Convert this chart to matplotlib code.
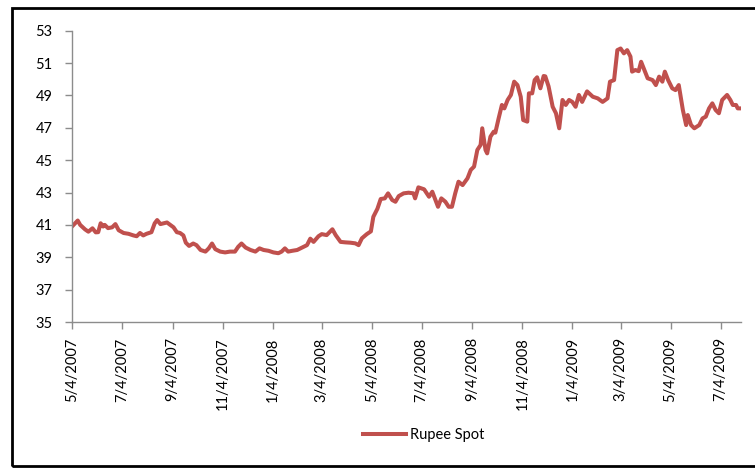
import matplotlib
matplotlib.use("Agg")
import matplotlib.pyplot as plt
import matplotlib.ticker as mticker
import pandas as pd
from matplotlib.patches import Rectangle

# Rupee spot rate
dates = [
    "2007-05-04", "2007-05-11", "2007-05-14", "2007-05-20", "2007-05-24", "2007-05-29",
    "2007-06-02", "2007-06-05", "2007-06-08", "2007-06-11", "2007-06-13", "2007-06-17",
    "2007-06-22", "2007-06-26", "2007-06-30", "2007-07-06", "2007-07-12", "2007-07-18",
    "2007-07-22", "2007-07-26", "2007-07-30", "2007-08-03", "2007-08-09", "2007-08-13",
    "2007-08-16", "2007-08-20", "2007-08-24", "2007-08-28", "2007-09-01", "2007-09-05",
    "2007-09-09", "2007-09-13", "2007-09-17", "2007-09-20", "2007-09-24", "2007-09-29",
    "2007-10-03", "2007-10-08", "2007-10-14", "2007-10-18", "2007-10-22", "2007-10-26",
    "2007-11-01", "2007-11-07", "2007-11-13", "2007-11-19", "2007-11-23", "2007-11-27",
    "2007-12-02", "2007-12-08", "2007-12-14", "2007-12-19", "2007-12-24", "2007-12-30",
    "2008-01-05", "2008-01-11", "2008-01-15", "2008-01-19", "2008-01-23", "2008-01-28",
    "2008-02-03", "2008-02-07", "2008-02-11", "2008-02-15", "2008-02-19", "2008-02-23",
    "2008-02-29", "2008-03-04", "2008-03-10", "2008-03-17", "2008-03-21", "2008-03-27",
    "2008-04-02", "2008-04-08", "2008-04-14", "2008-04-18", "2008-04-22", "2008-04-28",
    "2008-05-03", "2008-05-06", "2008-05-11", "2008-05-15", "2008-05-20", "2008-05-24",
    "2008-05-29", "2008-06-02", "2008-06-06", "2008-06-12", "2008-06-18", "2008-06-24",
    "2008-06-26", "2008-06-30", "2008-07-07", "2008-07-13", "2008-07-17", "2008-07-24",
    "2008-07-28", "2008-08-02", "2008-08-06", "2008-08-10", "2008-08-14", "2008-08-18",
    "2008-08-23", "2008-08-29", "2008-09-02", "2008-09-06", "2008-09-10", "2008-09-14",
    "2008-09-16", "2008-09-20", "2008-09-22", "2008-09-26", "2008-09-30", "2008-10-02",
    "2008-10-06", "2008-10-10", "2008-10-13", "2008-10-17", "2008-10-21", "2008-10-25",
    "2008-10-29", "2008-11-02", "2008-11-05", "2008-11-10", "2008-11-12", "2008-11-16",
    "2008-11-19", "2008-11-22", "2008-11-26", "2008-11-30", "2008-12-02", "2008-12-06",
    "2008-12-11", "2008-12-15", "2008-12-19", "2008-12-23", "2008-12-27", "2008-12-31",
    "2009-01-04", "2009-01-08", "2009-01-12", "2009-01-16", "2009-01-22", "2009-01-29",
    "2009-02-04", "2009-02-10", "2009-02-16", "2009-02-19", "2009-02-24", "2009-02-28",
    "2009-03-04", "2009-03-08", "2009-03-12", "2009-03-16", "2009-03-18", "2009-03-22",
    "2009-03-26", "2009-03-29", "2009-04-02", "2009-04-06", "2009-04-12", "2009-04-16",
    "2009-04-20", "2009-04-24", "2009-04-27", "2009-05-01", "2009-05-06", "2009-05-10",
    "2009-05-14", "2009-05-19", "2009-05-23", "2009-05-25", "2009-05-29", "2009-06-02",
    "2009-06-08", "2009-06-12", "2009-06-16", "2009-06-20", "2009-06-24", "2009-06-28",
    "2009-07-02", "2009-07-06", "2009-07-12", "2009-07-16", "2009-07-19", "2009-07-23",
    "2009-07-25", "2009-07-29",
]
rupee_spot = [
    40.90, 41.27, 41.00, 40.72, 40.58, 40.79,
    40.54, 40.55, 41.10, 40.90, 41.00, 40.80,
    40.85, 41.05, 40.67, 40.50, 40.45, 40.35,
    40.30, 40.50, 40.35, 40.45, 40.55, 41.10,
    41.30, 41.05, 41.10, 41.15, 41.00, 40.85,
    40.55, 40.50, 40.35, 39.90, 39.70, 39.85,
    39.75, 39.45, 39.35, 39.55, 39.85, 39.50,
    39.35, 39.30, 39.35, 39.35, 39.65, 39.85,
    39.60, 39.45, 39.35, 39.55, 39.45, 39.40,
    39.30, 39.25, 39.35, 39.55, 39.35, 39.40,
    39.45, 39.55, 39.65, 39.75, 40.15, 39.95,
    40.30, 40.43, 40.37, 40.73, 40.37, 39.95,
    39.92, 39.90, 39.86, 39.75, 40.17, 40.43,
    40.60, 41.50, 42.00, 42.60, 42.64, 42.95,
    42.54, 42.43, 42.78, 42.95, 42.99, 42.95,
    42.64, 43.32, 43.20, 42.74, 43.05, 42.12,
    42.64, 42.43, 42.12, 42.12, 42.95, 43.67,
    43.46, 43.88, 44.40, 44.60, 45.63, 45.94,
    46.97, 45.63, 45.42, 46.45, 46.76, 46.70,
    47.58, 48.41, 48.20, 48.72, 49.03, 49.85,
    49.64, 48.92, 47.48, 47.38, 49.13, 49.13,
    49.95, 50.12, 49.44, 50.20, 50.18, 49.56,
    48.30, 47.90, 46.97, 48.72, 48.41, 48.72,
    48.60, 48.30, 49.03, 48.60, 49.25, 48.92,
    48.82, 48.60, 48.82, 49.85, 49.95, 51.80,
    51.90, 51.60, 51.80, 51.40, 50.47, 50.57,
    50.50, 51.08, 50.57, 50.06, 49.95, 49.64,
    50.16, 49.85, 50.47, 49.95, 49.44, 49.33,
    49.64, 48.10, 47.17, 47.79, 47.17, 46.97,
    47.17, 47.58, 47.69, 48.20, 48.51, 48.10,
    47.90, 48.72, 49.03, 48.72, 48.41, 48.41,
    48.20, 48.20,
]
tick_dates = [
    "2007-05-04", "2007-07-04", "2007-09-04", "2007-11-04", "2008-01-04",
    "2008-03-04", "2008-05-04", "2008-07-04", "2008-09-04", "2008-11-04",
    "2009-01-04", "2009-03-04", "2009-05-04", "2009-07-04",
]
y_ticks = [35, 37, 39, 41, 43, 45, 47, 49, 51, 53]

plt.rcParams["font.family"] = ["Lato", "DejaVu Sans"]

x = pd.to_datetime(dates)
ticks = pd.to_datetime(tick_dates)

fig = plt.figure(figsize=(7.55, 4.68), dpi=100)
ax = fig.add_axes([72 / 755, 1 - 322 / 468, (741 - 72) / 755, (322 - 30.7) / 468])

ax.plot(x, rupee_spot, color="#C0504D", linewidth=2.9, label="Rupee Spot",
        solid_joinstyle="round")

ax.set_xlim(x[0], x[-1])
ax.set_ylim(35, 53)
ax.set_yticks(y_ticks)
ax.set_xticks(ticks)
ax.set_xticklabels([f"{d.month}/{d.day}/{d.year}" for d in ticks], rotation=90)
ax.xaxis.set_minor_locator(mticker.NullLocator())
ax.yaxis.set_minor_locator(mticker.NullLocator())

for side in ["top", "right"]:
    ax.spines[side].set_visible(False)
for side in ["left", "bottom"]:
    ax.spines[side].set_color("#8c8c8c")
    ax.spines[side].set_linewidth(1.0)

ax.tick_params(axis="both", colors="#8c8c8c", labelcolor="black",
               length=5, width=1, labelsize=10.5)
ax.tick_params(axis="y", pad=9)
ax.tick_params(axis="x", pad=6)

fig.legend(loc="center", bbox_to_anchor=(424 / 755, 1 - 435 / 468), frameon=False,
           fontsize=10.5, handlelength=2.9, handletextpad=0.3)

# outer chart frame (right edge runs off the picture)
fig.patches.append(Rectangle((12 / 755, 1 - 466 / 468), 1.2, (466 - 7.5) / 468,
                             transform=fig.transFigure, fill=False,
                             edgecolor="black", linewidth=2.0))

fig.savefig("out.png", dpi=100)
